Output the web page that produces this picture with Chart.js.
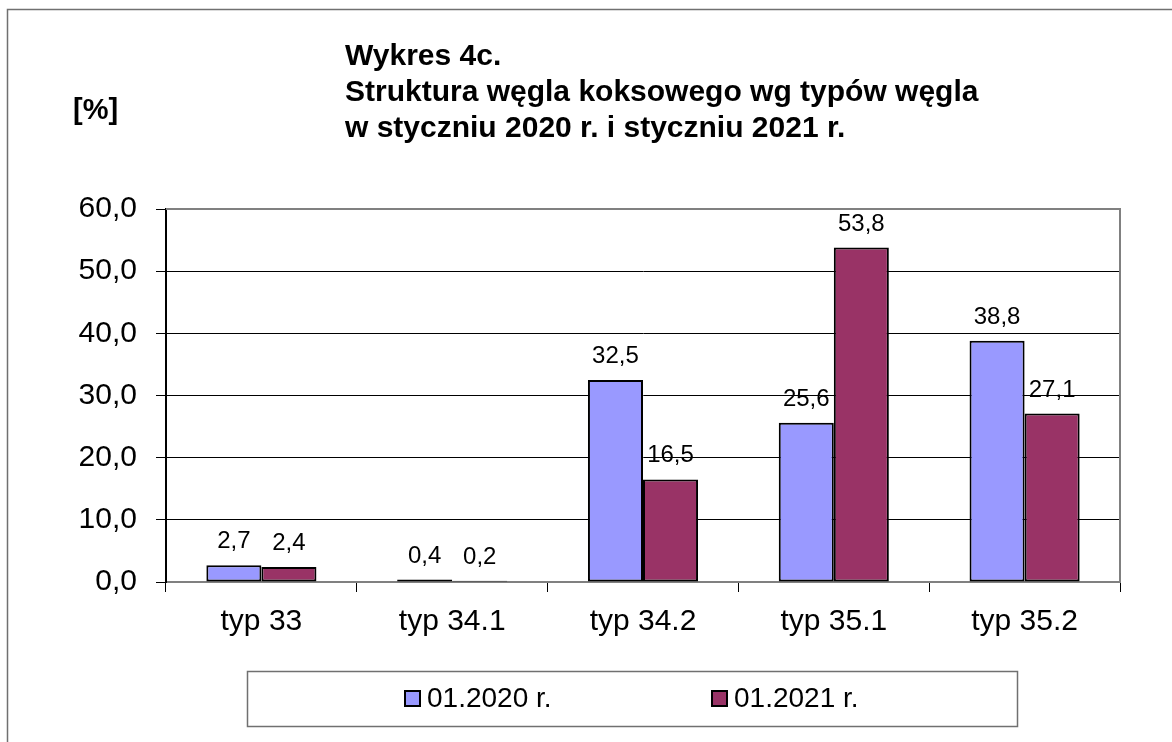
<!DOCTYPE html>
<html>
<head>
<meta charset="utf-8">
<script src="https://cdn.jsdelivr.net/npm/chart.js@4"></script>
<style>
  html, body { margin: 0; padding: 0; background: #fff; }
  canvas { display: block; }
</style>
</head>
<body>
<canvas id="coalChart" width="1172" height="742"></canvas>
<script>
// dane
const categories = ['typ 33', 'typ 34.1', 'typ 34.2', 'typ 35.1', 'typ 35.2'];
const seriesLabels = ['01.2020 r.', '01.2021 r.'];
const values2020 = [2.7, 0.4, 32.5, 25.6, 38.8];
const values2021 = [2.4, 0.2, 16.5, 53.8, 27.1];
const titleLines = ['Wykres 4c.', 'Struktura węgla koksowego wg typów węgla', 'w styczniu 2020 r. i styczniu 2021 r.'];
const unitLabel = '[%]';

const FONT = '"Liberation Sans", Arial, sans-serif';
const colors = ['#9999ff', '#993366'];

function fmt(v) {
    return v.toFixed(1).replace('.', ',');
}

// ramka, tytuł, legenda, etykiety
const decor = {
    id: 'decor',
    beforeDraw(chart) {
        const c = chart.ctx;
        c.save();
        c.fillStyle = '#fff';
        c.fillRect(0, 0, chart.width, chart.height);
        c.strokeStyle = '#707070';
        c.lineWidth = 1.5;
        c.strokeRect(7.5, 9.5, 1200, 800);

        c.fillStyle = '#000';
        c.font = 'bold 30px ' + FONT;
        c.textBaseline = 'alphabetic';
        c.textAlign = 'left';
        titleLines.forEach((t, i) => c.fillText(t, 345, 65 + i * 36));
        c.font = 'bold 29px ' + FONT;
        c.textBaseline = 'middle';
        c.fillText(unitLabel, 73, 111);
        c.restore();
    },
    afterDatasetsDraw(chart) {
        const c = chart.ctx;
        c.save();
        c.font = '24px ' + FONT;
        c.fillStyle = '#000';
        c.textAlign = 'center';
        c.textBaseline = 'alphabetic';
        chart.data.datasets.forEach((ds, di) => {
            chart.getDatasetMeta(di).data.forEach((bar, i) => {
                c.fillText(fmt(ds.data[i]), bar.x, bar.y - 17);
            });
        });
        c.restore();
    },
    afterDraw(chart) {
        const c = chart.ctx;
        const a = chart.chartArea;
        c.save();
        // obramowanie obszaru wykresu (góra, prawo)
        c.strokeStyle = '#808080';
        c.lineWidth = 2;
        c.beginPath();
        c.moveTo(a.left, a.top);
        c.lineTo(a.right, a.top);
        c.lineTo(a.right, a.bottom);
        c.stroke();

        // legenda
        c.lineWidth = 1.5;
        c.strokeStyle = '#707070';
        c.strokeRect(247.5, 671.5, 770, 55);
        const itemX = [405, 712];
        c.font = '28px ' + FONT;
        c.textBaseline = 'middle';
        c.textAlign = 'left';
        chart.data.datasets.forEach((ds, i) => {
            c.fillStyle = ds.backgroundColor;
            c.fillRect(itemX[i], 691, 15, 15);
            c.strokeStyle = '#000';
            c.lineWidth = 2;
            c.strokeRect(itemX[i], 691, 15, 15);
            c.fillStyle = '#000';
            c.fillText(ds.label, itemX[i] + 22, 699);
        });
        c.restore();
    }
};

new Chart(document.getElementById('coalChart'), {
    type: 'bar',
    data: {
        labels: categories,
        datasets: [{
            label: seriesLabels[0],
            data: values2020,
            backgroundColor: colors[0],
            borderColor: '#000',
            borderWidth: 2,
            borderSkipped: false
        }, {
            label: seriesLabels[1],
            data: values2021,
            backgroundColor: colors[1],
            borderColor: '#000',
            borderWidth: 2,
            borderSkipped: false
        }]
    },
    options: {
        responsive: false,
        animation: false,
        devicePixelRatio: 1,
        layout: { padding: { top: 209, left: 0, right: 52, bottom: 100 } },
        datasets: { bar: { categoryPercentage: 0.577, barPercentage: 1 } },
        plugins: {
            legend: { display: false },
            title: { display: false },
            tooltip: { enabled: false }
        },
        scales: {
            x: {
                afterFit: s => { s.height = 60; },
                grid: { drawOnChartArea: false, tickLength: 10, color: '#000', lineWidth: 1 },
                border: { color: '#808080', width: 2 },
                ticks: { color: '#000', font: { family: FONT, size: 30 }, padding: 12, maxRotation: 0 }
            },
            y: {
                min: 0,
                max: 60,
                afterFit: s => { s.width = 166; },
                grid: { color: '#000', lineWidth: 1, tickLength: 10 },
                border: { color: '#000', width: 2 },
                ticks: {
                    stepSize: 10,
                    color: '#000',
                    padding: 19,
                    font: { family: FONT, size: 30 },
                    callback: v => fmt(v)
                }
            }
        }
    },
    plugins: [decor]
});
</script>
</body>
</html>
